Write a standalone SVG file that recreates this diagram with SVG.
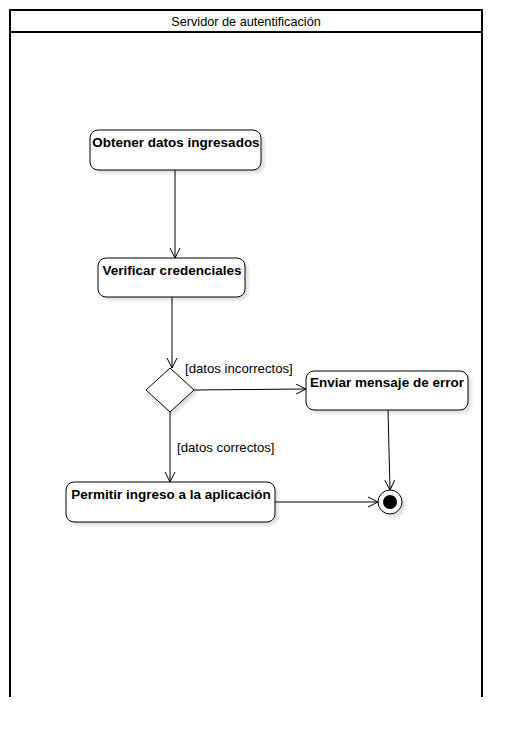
<svg xmlns="http://www.w3.org/2000/svg" width="522" height="738" viewBox="0 0 522 738">
<style>
.lane{fill:none;stroke:#000;stroke-width:2}
.act{fill:#fff;stroke:#000;stroke-width:1;filter:url(#sh)}
.t{font-family:"Liberation Sans",Arial,sans-serif;font-size:13.5px;font-weight:bold;fill:#000;text-anchor:middle}
.l{font-family:"Liberation Sans",Arial,sans-serif;font-size:13.2px;fill:#000}
.c{fill:none;stroke:#000;stroke-width:1;marker-end:url(#ar)}
</style>
<defs>
<filter id="sh" x="-10%" y="-20%" width="130%" height="160%">
<feDropShadow dx="3" dy="3" stdDeviation="1.5" flood-color="#000" flood-opacity="0.12"/>
</filter>
<marker id="ar" viewBox="0 0 12 12" refX="11" refY="6" markerWidth="12" markerHeight="12" markerUnits="userSpaceOnUse" orient="auto">
<path d="M1,1 L11,6 L1,11" fill="none" stroke="#000" stroke-width="1"/>
</marker>
</defs>
<rect width="522" height="738" fill="#fff"/>
<g id="lane">
<path class="lane" d="M10,697 V10 H482 V697 M10,32 H482"/>
<text x="246" y="26" class="l" text-anchor="middle" style="font-size:12.7px">Servidor de autentificación</text>
</g>
<g id="connectors">
<path class="c" d="M175,170 V258"/>
<path class="c" d="M172,297 V368"/>
<path class="c" d="M194,390 L306,389"/>
<path class="c" d="M170,412 V482"/>
<path class="c" d="M388,410 L390,490"/>
<path class="c" d="M275,502 H378"/>
<text x="185" y="373" class="l">[datos incorrectos]</text>
<text x="177" y="452" class="l">[datos correctos]</text>
</g>
<g id="obtener">
<rect class="act" x="90" y="130" width="171" height="40" rx="8"/>
<text x="176" y="147" class="t">Obtener datos ingresados</text>
</g>
<g id="verificar">
<rect class="act" x="98" y="258" width="147" height="39" rx="8"/>
<text x="172" y="275" class="t">Verificar credenciales</text>
</g>
<g id="decision">
<path class="act" d="M170,368 L194,390 L170,412 L146,390 Z"/>
</g>
<g id="enviar">
<rect class="act" x="306" y="371" width="162" height="39" rx="8"/>
<text x="387" y="387" class="t">Enviar mensaje de error</text>
</g>
<g id="permitir">
<rect class="act" x="66" y="482" width="209" height="40" rx="8"/>
<text x="171" y="499" class="t">Permitir ingreso a la aplicación</text>
</g>
<g id="final">
<circle cx="390" cy="502" r="12" fill="#fff" stroke="#000" stroke-width="1" filter="url(#sh)"/>
<circle cx="390" cy="502" r="7" fill="#000"/>
</g>
</svg>
